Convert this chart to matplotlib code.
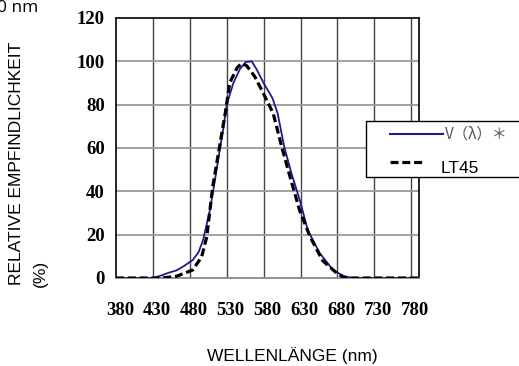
import matplotlib.pyplot as plt
from matplotlib.patches import Rectangle
from matplotlib.lines import Line2D
from matplotlib.transforms import ScaledTranslation

# V(lambda) curve
lam_v = [380, 430, 440, 452, 462, 472, 484, 492, 498, 507, 514, 520, 525, 530, 539, 548,
         556, 564, 571, 580, 592, 599, 608, 618, 629, 640, 656, 674, 688, 700, 790]
v_v = [0, 0, 1, 2.5, 3.5, 5.5, 8.3, 12, 17.5, 31, 45, 58, 68, 80, 90, 96.5,
       99.7, 100, 96, 90, 83, 76, 60.5, 48, 36, 22, 11.5, 3.7, 1, 0, 0]

# LT45 curve
lam_lt = [380, 440, 450, 462, 484, 496, 503, 511, 520, 528, 534, 544, 550, 557, 568,
          580, 593, 605, 616, 629, 643, 660, 680, 690, 790]
v_lt = [0, 0, 0.3, 0.8, 3.7, 9.7, 19, 42, 60, 76, 90, 97, 99, 98, 93,
        85, 76, 60, 46.5, 31, 19, 8, 2, 0, 0]

xticks = [380, 430, 480, 530, 580, 630, 680, 730, 780]
yticks = [0, 20, 40, 60, 80, 100, 120]

W, H = 519, 366
fig = plt.figure(figsize=(W / 100, H / 100), dpi=100)
ax = fig.add_axes([116 / W, 1 - 278 / H, (419 - 116) / W, (278 - 18) / H])

ax.set_xlim(380, 380 + (419 - 116) / 36.9 * 50)
ax.set_ylim(0, 120)

tickfont = ['Liberation Serif']
ax.set_xticks(xticks)
ax.set_yticks(yticks)
ax.set_xticklabels([str(t) for t in xticks], family=tickfont, fontweight='bold', fontsize=13.5)
ax.set_yticklabels([str(t) for t in yticks], family=tickfont, fontweight='bold', fontsize=13.5)
ax.tick_params(axis='both', length=0)
ax.tick_params(axis='x', pad=17)
ax.tick_params(axis='y', pad=8)
for lbl in ax.get_xticklabels():
    lbl.set_transform(lbl.get_transform() + ScaledTranslation(4 / 100, 0, fig.dpi_scale_trans))

for x in xticks[1:]:
    ax.axvline(x, color='#444444', lw=1.0, zorder=1)
for y in yticks[1:-1]:
    ax.axhline(y, color='#9a9a9a', lw=1.3, zorder=1)

for s in ['left', 'top', 'right']:
    ax.spines[s].set_color('black')
    ax.spines[s].set_linewidth(1.2)
ax.spines['bottom'].set_color('#888888')
ax.spines['bottom'].set_linewidth(1.3)

ax.plot(lam_v, v_v, color='#1c1c8c', lw=1.3, zorder=3)
ln, = ax.plot(lam_lt, v_lt, color='black', lw=2.3, zorder=4)
ln.set_dashes((2.5, 1.2))

# legend box, drawn by hand (runs off the right edge like the original)
def fx(px):
    return px / W

def fy(py):
    return 1 - py / H

fig.patches.append(Rectangle((fx(366), fy(177)), fx(540) - fx(366), fy(121) - fy(177),
                             transform=fig.transFigure, facecolor='white', edgecolor='black',
                             lw=1.0, zorder=10))
fig.lines.append(Line2D([fx(390), fx(443)], [fy(134), fy(134)], transform=fig.transFigure,
                        color='#1c1c8c', lw=1.5, zorder=11))
dl = Line2D([fx(390), fx(422)], [fy(162), fy(162)], transform=fig.transFigure,
            color='black', lw=2.3, zorder=11)
dl.set_dashes((2.5, 1.2))
fig.lines.append(dl)
fig.text(fx(445), fy(134), 'V（λ）＊', family=['Noto Sans CJK JP', 'DejaVu Sans'],
         fontsize=11, color='#555555', ha='left', va='center', zorder=12)
fig.text(fx(441), fy(168), 'LT45', family='Liberation Sans', fontsize=12.5,
         ha='left', va='center', zorder=12)

# axis titles
fig.text(fx(17), fy(285), 'RELATIVE EMPFINDLICHKEIT', family='Liberation Sans', fontsize=12.5,
         rotation=90, ha='center', va='bottom')
fig.text(fx(40), fy(287), '(%)', family='Liberation Sans', fontsize=12.5,
         rotation=90, ha='center', va='bottom')
fig.text(fx(292), fy(356), 'WELLENLÄNGE (nm)', family='Liberation Sans', fontsize=12.5,
         ha='center', va='center')
fig.text(fx(-3), fy(12), '0 nm', family='Open Sans', fontsize=12.5,
         ha='left', va='baseline')

fig.savefig('out.png', dpi=100)
